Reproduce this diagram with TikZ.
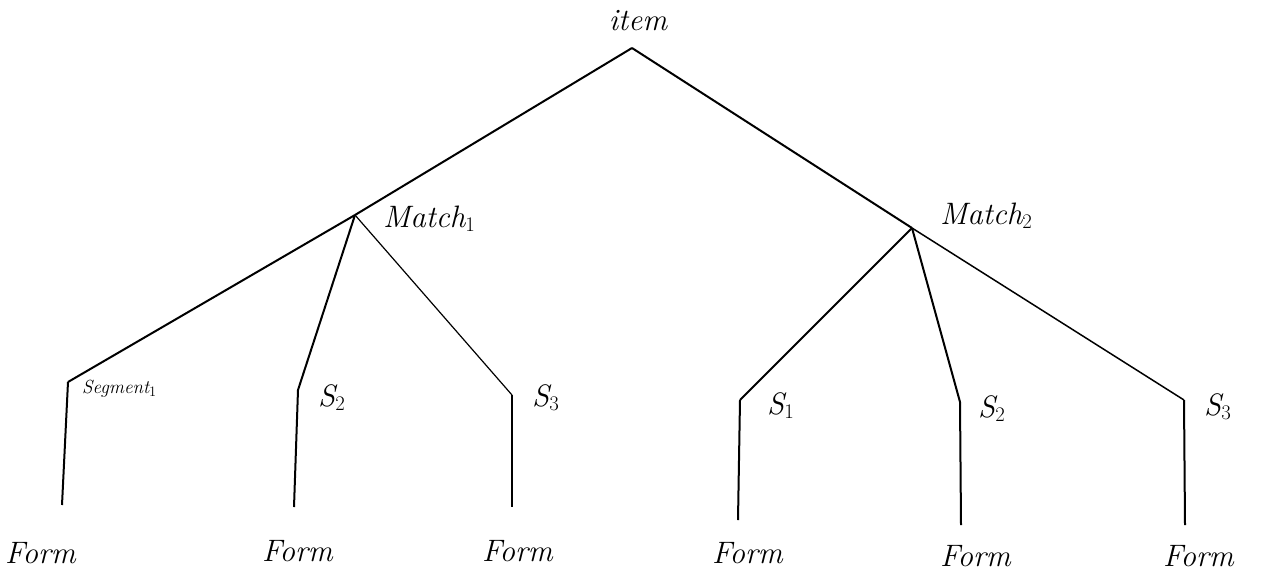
\documentclass[tikz,border=0pt]{standalone}
\usepackage{fontspec}
\usepackage{tikz}
\begin{document}
\begin{tikzpicture}[x=1pt,y=-1pt,
  edge/.style={line width=2pt,black},
  lbl/.style={font=\fontsize{31}{33}\selectfont\itshape\addfontfeatures{LetterSpace=8},inner sep=0pt,anchor=base west},
  small/.style={font=\fontsize{19}{21}\selectfont\itshape}]
\useasboundingbox (0,0) rectangle (1266,571);
% junction points
\coordinate (item) at (632,48);
\coordinate (m1) at (355,215);
\coordinate (m2) at (912,228);
\coordinate (a1) at (68,382);
\coordinate (a2) at (298,390);
\coordinate (a3) at (512,395);
\coordinate (b1) at (740,400);
\coordinate (b2) at (960,402);
\coordinate (b3) at (1184,400);
\coordinate (fa1) at (62,505);
\coordinate (fa2) at (294,507);
\coordinate (fa3) at (512,507);
\coordinate (fb1) at (738,520);
\coordinate (fb2) at (961,525);
\coordinate (fb3) at (1185,525);
% labels
\node[lbl,anchor=base] (titem) at (638,30) {item};
\node[lbl] (tm1) at (383,227) {Match$_1$};
\node[lbl] (tm2) at (940,224) {Match$_2$};
\node[lbl,small] (ta1) at (82,393) {Segment$_1$};
\node[lbl] (ta2) at (318,406) {S$_2$};
\node[lbl] (ta3) at (532,406) {S$_3$};
\node[lbl] (tb1) at (767,414) {S$_1$};
\node[lbl] (tb2) at (978,417) {S$_2$};
\node[lbl] (tb3) at (1204,415) {S$_3$};
\node[lbl] (fna1) at (5,563) {Form};
\node[lbl] (fna2) at (262,561) {Form};
\node[lbl] (fna3) at (482,561) {Form};
\node[lbl] (fnb1) at (712,563) {Form};
\node[lbl] (fnb2) at (940,566) {Form};
\node[lbl] (fnb3) at (1163,566) {Form};
% edges
\draw[edge] (item) -- (m1);
\draw[edge] (item) -- (m2);
\draw[edge] (m1) -- (a1);
\draw[edge] (m1) -- (a2);
\draw[edge,line width=1.2pt] (m1) -- (a3);
\draw[edge] (m2) -- (b1);
\draw[edge] (m2) -- (b2);
\draw[edge,line width=1.5pt] (m2) -- (b3);
\draw[edge] (a1) -- (fa1);
\draw[edge] (a2) -- (fa2);
\draw[edge] (a3) -- (fa3);
\draw[edge] (b1) -- (fb1);
\draw[edge] (b2) -- (fb2);
\draw[edge] (b3) -- (fb3);
\end{tikzpicture}
\end{document}
